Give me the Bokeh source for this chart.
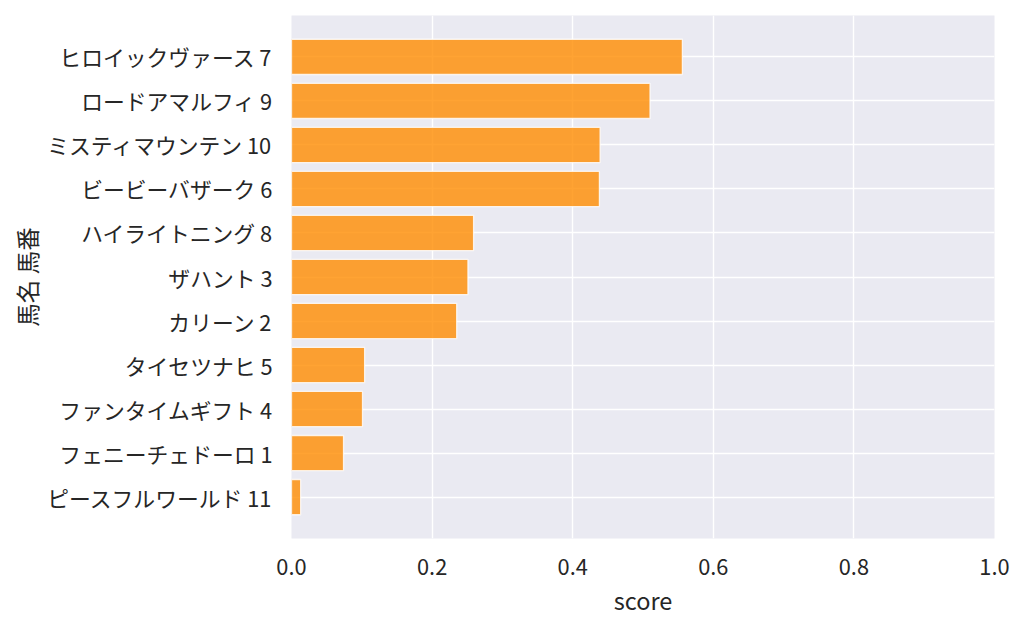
from bokeh.plotting import figure
from bokeh.models import FactorRange, ColumnDataSource, Range1d, FixedTicker, NumeralTickFormatter
from bokeh.embed import file_html
from bokeh.resources import INLINE

# Data (top to bottom as shown)
horse_names = ["ヒロイックヴァース", "ロードアマルフィ", "ミスティマウンテン", "ビービーバザーク",
               "ハイライトニング", "ザハント", "カリーン", "タイセツナヒ",
               "ファンタイムギフト", "フェニーチェドーロ", "ピースフルワールド"]
horse_numbers = [7, 9, 10, 6, 8, 3, 2, 5, 4, 1, 11]
scores = [0.556, 0.510, 0.439, 0.438, 0.259, 0.251, 0.235, 0.104, 0.101, 0.074, 0.013]
x_ticks = [0.0, 0.2, 0.4, 0.6, 0.8, 1.0]

labels = [f"{n} {k}" for n, k in zip(horse_names, horse_numbers)]
factors = list(reversed(labels))

src = ColumnDataSource(dict(label=labels, score=scores))

FONT = "Noto Sans CJK JP"
TXT = "#262626"

p = figure(
    y_range=FactorRange(factors=factors, range_padding=0.08, range_padding_units="percent"),
    x_range=Range1d(0, 1.0),
    frame_width=703, frame_height=523,
    min_border_left=291, min_border_top=15, min_border_right=26, min_border_bottom=82,
    output_backend="svg", toolbar_location=None,
    background_fill_color="#EAEAF2", border_fill_color="white",
)
p.outline_line_color = None

p.hbar(y="label", right="score", left=0, height=0.8, source=src,
       fill_color="#FF8C00", fill_alpha=0.8,
       line_color="white", line_alpha=0.8, line_width=1.3)

p.xgrid.grid_line_color = "white"
p.ygrid.grid_line_color = "white"
p.xgrid.grid_line_width = 1.4
p.ygrid.grid_line_width = 1.4
p.xaxis.ticker = FixedTicker(ticks=x_ticks)
p.xaxis.formatter = NumeralTickFormatter(format="0.0")

for ax in (p.xaxis[0], p.yaxis[0]):
    ax.axis_line_color = None
    ax.major_tick_line_color = None
    ax.minor_tick_line_color = None
    ax.major_label_text_font = FONT
    ax.major_label_text_font_size = "21.8px"
    ax.major_label_text_color = TXT
    ax.axis_label_text_font = FONT
    ax.axis_label_text_font_size = "23.5px"
    ax.axis_label_text_font_style = "normal"
    ax.axis_label_text_color = TXT

p.xaxis.major_label_standoff = 14
p.yaxis.major_label_standoff = 13
p.xaxis.axis_label = "score"
p.yaxis.axis_label = "馬名 馬番"
p.xaxis.axis_label_standoff = 5
p.yaxis.axis_label_standoff = 0

open("out.html", "w").write(file_html(p, INLINE))
